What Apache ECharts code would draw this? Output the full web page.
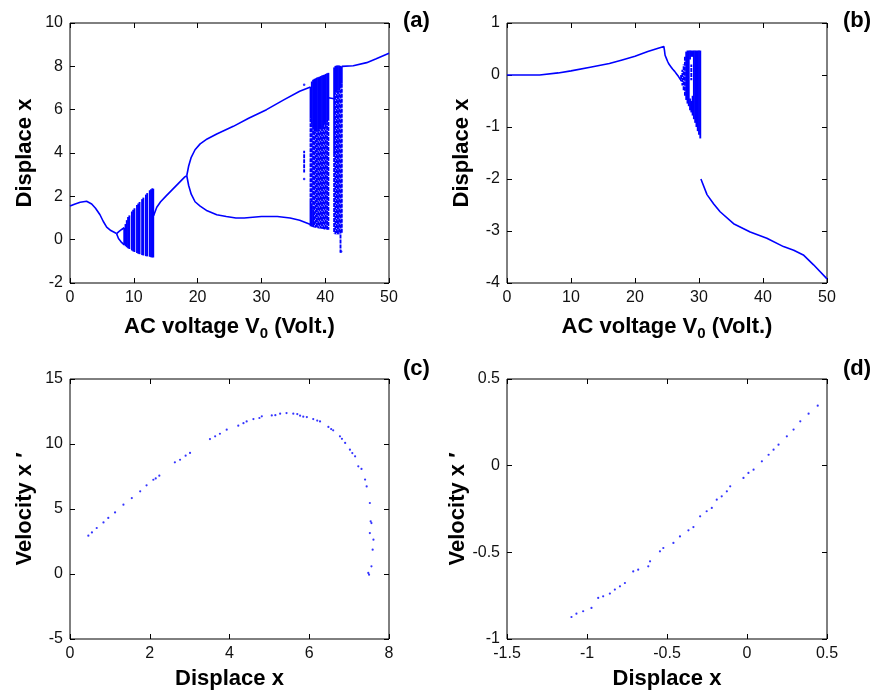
<!DOCTYPE html>
<html><head><meta charset="utf-8">
<script src="https://cdn.jsdelivr.net/npm/echarts@6/dist/echarts.min.js"></script>
<style>html,body{margin:0;padding:0;background:#fff}#c{width:875px;height:693px}</style>
</head><body><div id="c"></div>
<script>
// ---------- tick labels ----------
const aXTicks = [0, 10, 20, 30, 40, 50];
const aYTicks = [-2, 0, 2, 4, 6, 8, 10];
const bXTicks = [0, 10, 20, 30, 40, 50];
const bYTicks = [-4, -3, -2, -1, 0, 1];
const cXTicks = [0, 2, 4, 6, 8];
const cYTicks = [-5, 0, 5, 10, 15];
const dXTicks = [-1.5, -1, -0.5, 0, 0.5];
const dYTicks = [-1, -0.5, 0, 0.5];

// ---------- panel (a): bifurcation, V0 vs x ----------
const aBranch1 = [[0,1.55],[0.8,1.65],[1.6,1.73],[2.6,1.77],[3.4,1.65],[4.0,1.45],[4.7,1.15],[5.2,0.85],[5.75,0.58],[6.4,0.42],[7.0,0.33],[7.3,0.28]];
const aLoopUpper = [[7.3,0.28],[7.7,0.38],[8.1,0.47],[8.5,0.55]];
const aLoopLower = [[7.3,0.28],[7.6,0.05],[8.0,-0.1],[8.5,-0.24]];
const aBranch2 = [[13.1,1.1],[13.6,1.5],[14.2,1.75],[15.0,2.0],[16.0,2.3],[17.0,2.6],[18.0,2.9],[18.3,2.95]];
const aUpper = [[18.3,2.95],[18.6,3.4],[19.0,3.8],[19.6,4.15],[20.4,4.42],[21.5,4.65],[23.0,4.88],[25.6,5.23],[28.0,5.6],[30.8,6.0],[33.5,6.45],[36.0,6.85],[37.7,7.05]];
const aLower = [[18.3,2.95],[18.6,2.5],[19.0,2.1],[19.6,1.75],[20.4,1.55],[21.5,1.33],[23.0,1.15],[24.5,1.07],[26.0,1.0],[27.3,1.0],[27.5,1.05],[30.0,1.07],[32.5,1.07],[34.5,1.0],[36.0,0.9],[37.7,0.7]];
const aLink = [[40.5,6.55],[41.4,6.5]];
const aBranch3 = [[42.6,8.0],[44.4,8.03],[46.5,8.17],[48.0,8.35],[50,8.6]];
const aDots = [[36.7,7.15],[36.7,2.8],[42.5,-0.55]];
// chaotic bands: [V, lower edge, upper edge]
const aBandDense = [
 [8.5,-0.24,0.55],[8.7,-0.30,0.72],[8.9,-0.35,0.90],[9.1,-0.40,1.05],[9.3,-0.43,1.12],
 [9.7,-0.50,1.30],[9.9,-0.54,1.38],[10.1,-0.57,1.45],[10.5,-0.62,1.60],
 [10.7,-0.65,1.67],[10.9,-0.67,1.74],[11.3,-0.71,1.87],[11.5,-0.73,1.94],
 [11.9,-0.76,2.08],[12.1,-0.77,2.15],[12.5,-0.79,2.28],[12.7,-0.81,2.33],
 [12.9,-0.82,2.37],[13.05,-0.82,2.35],
 [37.7,5.6,7.05],[37.9,5.3,7.30],[38.1,5.1,7.38],[38.3,5.0,7.42],[38.5,5.0,7.45],[38.7,5.0,7.48],
 [38.9,5.0,7.50],[39.1,5.1,7.52],[39.3,5.1,7.55],[39.5,5.2,7.58],[39.7,5.2,7.60],[39.9,5.3,7.62],
 [40.1,5.3,7.65],[40.3,5.4,7.68],[40.5,5.5,7.70],
 [37.7,0.62,1.8],[37.9,0.6,1.6],[38.1,0.58,1.4],
 [41.4,4.0,7.95],[41.6,6.8,8.02],[41.8,6.8,8.04],[42.0,6.9,8.04],[42.2,6.9,8.04],[42.4,7.0,8.02],[42.6,7.2,8.0]
];
const aBandSparse = [
 [37.7,1.8,5.6],[37.9,1.6,5.3],[38.1,1.4,5.1],[38.3,0.56,5.0],[38.5,0.55,5.0],[38.7,0.54,5.0],
 [38.9,0.53,5.0],[39.1,0.52,5.1],[39.3,0.51,5.1],[39.5,0.5,5.2],[39.7,0.49,5.2],[39.9,0.47,5.3],
 [40.1,0.47,5.3],[40.3,0.46,5.4],[40.5,0.46,5.5],
 [41.4,0.3,4.0],[41.6,0.25,6.8],[41.8,0.25,6.8],[42.0,0.24,6.9],[42.2,0.25,6.9],[42.4,-0.6,7.0],[42.6,0.3,7.2],
 [36.7,3.1,4.1]
];

// ---------- panel (b) ----------
const bBranch1 = [[0,0],[5.1,0.0],[5.2,0.02],[8.0,0.04],[8.1,0.055],[10,0.08],[13,0.15],[16,0.22],[18,0.29],[20,0.36],[22,0.45],[24,0.53],[24.5,0.55],[24.6,0.48],[24.7,0.38],[24.9,0.32],[25.1,0.26],[25.3,0.21],[25.6,0.16],[25.9,0.11],[26.2,0.07],[26.5,0.02],[26.8,-0.03],[27.0,-0.07],[27.2,-0.1]];
const bBranch2 = [[30.3,-2.0],[31.25,-2.3],[32.3,-2.48],[33.3,-2.63],[35.4,-2.86],[38,-3.02],[40.6,-3.14],[43.2,-3.3],[44.8,-3.37],[46.3,-3.46],[47.9,-3.65],[50,-3.92]];
const bBandDense = [
 [28.0,-0.48,0.45],[28.2,-0.55,0.47],[28.4,-0.60,0.47],
 [28.6,-0.68,-0.45],[28.6,0.30,0.47],[28.8,-0.72,-0.50],[28.8,0.35,0.47],[29.0,-0.78,-0.40],[29.0,0.35,0.47],
 [29.2,-0.85,0.47],[29.4,-0.92,0.47],[29.6,-1.0,0.47],[29.8,-1.08,0.47],[30.0,-1.15,0.47],[30.2,-1.22,0.47]
];
const bBandSparse = [[27.2,-0.12,0.0],[27.4,-0.2,0.1],[27.6,-0.3,0.2],[27.8,-0.4,0.35],[28.8,-0.1,0.2]];

// ---------- panel (c): phase portrait ----------
const cPoints = [[0.46,2.95],[0.55,3.2],[0.67,3.54],[0.84,3.97],[0.96,4.31],[1.13,4.74],[1.34,5.33],[1.55,5.84],[1.76,6.36],[1.92,6.82],[2.09,7.25],[2.15,7.35],[2.24,7.56],[2.63,8.59],[2.76,8.79],[2.9,9.1],[3.01,9.31],[3.51,10.38],[3.64,10.59],[3.76,10.79],[3.93,11.1],[4.22,11.41],[4.35,11.6],[4.43,11.74],[4.6,11.92],[4.75,12.0],[4.81,12.13],[5.06,12.2],[5.15,12.22],[5.27,12.33],[5.43,12.38],[5.6,12.33],[5.7,12.3],[5.77,12.18],[5.85,12.1],[5.94,12.07],[6.1,11.92],[6.2,11.8],[6.27,11.74],[6.48,11.31],[6.55,11.15],[6.6,11.05],[6.77,10.59],[6.82,10.4],[6.9,10.08],[7.02,9.56],[7.08,9.3],[7.15,9.05],[7.23,8.28],[7.31,8.08],[7.4,7.26],[7.44,6.74],[7.52,5.46],[7.54,4.05],[7.56,3.92],[7.52,3.15],[7.61,2.64],[7.59,1.87],[7.56,0.59],[7.48,0.08],[7.5,-0.05]];

// ---------- panel (d) ----------
const dPoints = [[-1.097,-0.873],[-1.066,-0.854],[-1.024,-0.84],[-0.972,-0.821],[-0.93,-0.763],[-0.899,-0.754],[-0.857,-0.738],[-0.826,-0.715],[-0.794,-0.696],[-0.763,-0.677],[-0.711,-0.61],[-0.68,-0.6],[-0.617,-0.581],[-0.606,-0.552],[-0.544,-0.494],[-0.523,-0.475],[-0.46,-0.446],[-0.419,-0.408],[-0.366,-0.373],[-0.335,-0.354],[-0.293,-0.292],[-0.252,-0.263],[-0.22,-0.244],[-0.189,-0.196],[-0.158,-0.177],[-0.126,-0.148],[-0.105,-0.119],[-0.022,-0.071],[0.009,-0.042],[0.041,-0.023],[0.093,0.025],[0.135,0.063],[0.166,0.092],[0.197,0.121],[0.249,0.169],[0.291,0.208],[0.333,0.256],[0.385,0.3],[0.442,0.346]];

// ---------- chart ----------
const BLUE = '#0000ff';
const FONT = '"Liberation Sans", Arial, sans-serif';
const COL_HALF = 0.1; // half column width of a band column, in volts (style)
const grids = [
  {left:70, top:23, width:319, height:260},
  {left:507, top:23, width:320, height:260},
  {left:70, top:379, width:319, height:260},
  {left:507, top:379, width:320, height:260}
].map(g => Object.assign({show:true, borderColor:'#000', borderWidth:1, backgroundColor:'#fff'}, g));

function ax(ticks, grid, pos, name, extra) {
  const base = {
    type:'value', gridIndex:grid, position:pos,
    min:ticks[0], max:ticks[ticks.length-1], interval:ticks[1]-ticks[0],
    axisLine:{show:false, onZero:false}, splitLine:{show:false},
    axisTick:{show:true, inside:true, length:5, lineStyle:{color:'#000', width:1}},
    axisLabel:{show: !extra, color:'#111', fontSize:16, fontFamily:FONT, margin:7},
  };
  if (name && !extra) {
    base.name = name; base.nameLocation = 'middle';
    base.nameTextStyle = {fontSize:22, fontWeight:'bold', fontFamily:FONT, color:'#000',
      rich:{b:{fontSize:22, fontWeight:'bold', fontFamily:FONT, color:'#000'},
            sub:{fontSize:15, fontWeight:'bold', fontFamily:FONT, color:'#000', padding:[14,0,0,0]}}};
    base.nameGap = (pos==='bottom') ? 29 : 34;
  }
  return base;
}
const xName = '{b|AC voltage V}{sub|0}{b| (Volt.)}';
const xAxes = [
  ax(aXTicks,0,'bottom',xName), ax(bXTicks,1,'bottom',xName),
  ax(cXTicks,2,'bottom','Displace x'), ax(dXTicks,3,'bottom','Displace x'),
  ax(aXTicks,0,'top',null,true), ax(bXTicks,1,'top',null,true),
  ax(cXTicks,2,'top',null,true), ax(dXTicks,3,'top',null,true)
];
const yAxes = [
  ax(aYTicks,0,'left','Displace x'), ax(bYTicks,1,'left','Displace x'),
  ax(cYTicks,2,'left','Velocity x \u2032'), ax(dYTicks,3,'left','Velocity x \u2032'),
  ax(aYTicks,0,'right',null,true), ax(bYTicks,1,'right',null,true),
  ax(cYTicks,2,'right',null,true), ax(dYTicks,3,'right',null,true)
];

function line(data, g) {
  return {type:'line', data:data, xAxisIndex:g, yAxisIndex:g, symbol:'none', showSymbol:false,
    lineStyle:{color:BLUE, width:1.6}, animation:false, z:3};
}
function dots(data, g, size) {
  return {type:'scatter', data:data, xAxisIndex:g, yAxisIndex:g, symbol:'circle', symbolSize:size,
    itemStyle:{color:BLUE}, animation:false, z:4};
}
function band(data, g, sparse) {
  return {type:'custom', data:data, xAxisIndex:g, yAxisIndex:g, encode:{x:0, y:[1,2]}, animation:false, z:2,
    renderItem: function(params, api) {
      const v = api.value(0);
      const pl = api.coord([v - COL_HALF, api.value(2)]);
      const pr = api.coord([v + COL_HALF, api.value(1)]);
      const w = pr[0] - pl[0] + 0.6;
      if (!sparse) {
        return {type:'rect', shape:{x:pl[0]-0.3, y:pl[1], width:w, height:pr[1]-pl[1]},
          style:{fill:BLUE}};
      }
      const xm = (pl[0] + pr[0]) / 2;
      return {type:'line', shape:{x1:xm, y1:pl[1], x2:xm, y2:pr[1]},
        style:{stroke:BLUE, lineWidth:w, lineDash:[4,1],
               lineDashOffset:(params.dataIndex % 3) * 1.7}};
    }};
}

const series = [
  line(aBranch1,0), line(aLoopUpper,0), line(aLoopLower,0), line(aBranch2,0),
  line(aUpper,0), line(aLower,0), line(aLink,0), line(aBranch3,0), dots(aDots,0,2.5),
  band(aBandDense,0,false), band(aBandSparse,0,true),
  line(bBranch1,1), line(bBranch2,1), band(bBandDense,1,false), band(bBandSparse,1,true),
  dots(cPoints,2,2.2), dots(dPoints,3,2.2)
];

const labelFont = 'bold 22px ' + FONT;
const graphic = [
  {type:'text', left:403, top:10, style:{text:'(a)', font:labelFont, fill:'#000'}},
  {type:'text', left:843, top:10, style:{text:'(b)', font:labelFont, fill:'#000'}},
  {type:'text', left:403, top:358, style:{text:'(c)', font:labelFont, fill:'#000'}},
  {type:'text', left:843, top:358, style:{text:'(d)', font:labelFont, fill:'#000'}}
];

const chart = echarts.init(document.getElementById('c'), null, {renderer:'canvas'});
chart.setOption({animation:false, backgroundColor:'#fff', grid:grids, xAxis:xAxes, yAxis:yAxes, series:series, graphic:graphic});
</script></body></html>
